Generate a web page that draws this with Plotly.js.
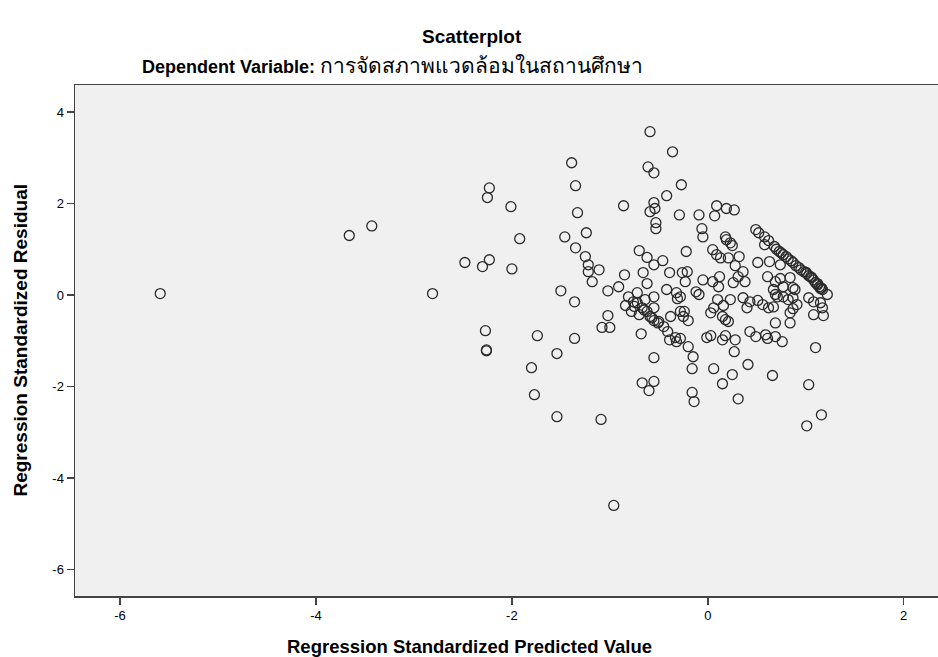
<!DOCTYPE html>
<html>
<head>
<meta charset="utf-8">
<script src="https://cdn.plot.ly/plotly-3.0.1.min.js"></script>
<style>html,body{margin:0;padding:0;background:#fff;}#chart{width:938px;height:657px;}</style>
</head>
<body>
<div id="chart"></div>
<script>
// Regression Standardized Predicted Value (x) and Regression Standardized Residual (y)
const predicted = [
-5.59,-3.66,-3.43,-2.81,-2.48,-2.30,-2.23,-2.23,-2.25,-2.27,-2.26,-2.26,-2.01,-1.92,-2.00,-1.74,-1.80,-1.77,-1.54,-1.54,
-1.50,-1.46,-1.39,-1.35,-1.33,-1.24,-1.35,-1.25,-1.22,-1.22,-1.11,-1.18,-1.36,-1.36,-1.09,-0.96,-1.02,-0.91,-0.85,-0.86,
-0.70,-0.62,-0.55,-0.46,-0.66,-0.62,-0.39,-0.59,-0.36,-0.61,-0.55,-0.42,-0.55,-0.59,-0.54,-0.53,-0.53,-0.27,-0.29,-0.09,
0.07,0.09,0.19,0.27,-0.06,-0.05,0.18,-0.22,-0.26,-0.21,-0.23,-0.42,-0.32,-0.31,-0.12,-0.09,-0.72,-0.81,-0.84,-0.78,
-0.72,-0.67,-0.62,-0.59,-0.55,-0.51,-0.45,-0.70,-0.64,-0.55,-0.55,-0.76,-0.38,-0.24,-0.20,-1.02,-1.08,-1.00,-0.68,-0.41,
-0.39,-0.33,-0.55,-0.67,-0.55,-0.60,-0.20,-0.15,-0.16,-0.16,-0.14,-0.28,-0.32,0.05,0.09,0.13,0.21,0.32,0.19,0.23,
0.25,0.28,0.36,0.31,0.38,0.26,0.49,0.52,0.51,-0.05,0.05,0.12,0.11,0.10,0.06,0.03,0.16,0.23,0.36,0.40,
0.51,0.15,0.18,0.21,-0.01,0.03,0.15,0.18,0.28,0.43,0.49,0.61,0.76,0.27,0.06,0.25,0.15,0.41,0.66,0.31,
1.10,1.03,1.16,1.01,0.58,0.62,0.68,0.73,0.77,0.80,0.82,0.87,0.90,0.93,0.98,1.01,1.03,1.06,1.08,1.10,
1.12,1.14,1.15,1.17,1.22,1.03,1.08,1.15,1.17,1.08,1.18,0.58,0.61,0.69,0.74,0.84,0.77,0.87,0.67,0.69,
0.71,0.77,0.82,0.87,0.91,0.89,0.87,0.84,0.84,0.69,0.63,0.74,0.43,0.56,0.62,0.67,0.59,0.69,-0.28,-0.25,
-0.28,0.85,0.95,1.00,1.05,1.12,1.16,0.70,0.75,-0.75,-0.65,-0.57,-0.50
];
const residual = [
0.03,1.30,1.51,0.03,0.71,0.62,0.77,2.34,2.13,-0.78,-1.22,-1.20,1.93,1.23,0.57,-0.89,-1.59,-2.18,-1.28,-2.66,
0.09,1.27,2.89,2.39,1.80,1.36,1.03,0.84,0.66,0.51,0.55,0.29,-0.15,-0.95,-2.72,-4.60,0.09,0.18,0.44,1.95,
0.97,0.82,0.66,0.75,0.49,0.25,0.49,3.57,3.13,2.80,2.67,2.17,2.02,1.82,1.89,1.58,1.45,2.41,1.75,1.75,
1.73,1.95,1.89,1.86,1.45,1.27,1.27,0.95,0.49,0.51,0.29,0.12,0.05,-0.08,0.07,0.01,0.05,-0.04,-0.23,-0.36,
-0.17,-0.28,-0.36,-0.47,-0.56,-0.61,-0.69,-0.43,-0.10,-0.04,-0.28,-0.15,-0.47,-0.36,-0.56,-0.45,-0.71,-0.71,-0.85,-0.80,
-0.98,-0.93,-1.37,-1.92,-1.89,-2.09,-1.13,-1.35,-1.61,-2.13,-2.33,-0.95,-1.02,0.99,0.88,0.81,0.81,0.84,1.21,1.14,
1.08,0.64,0.51,0.40,0.29,0.27,1.43,1.36,0.71,0.33,0.29,0.40,0.18,-0.10,-0.28,-0.39,-0.23,-0.10,-0.06,-0.28,
-0.12,-0.47,-0.54,-0.58,-0.93,-0.89,-0.98,-0.89,-0.98,-0.80,-0.91,-0.95,-1.02,-1.24,-1.61,-1.74,-1.94,-1.52,-1.76,-2.27,
-1.15,-1.96,-2.62,-2.86,1.27,1.19,1.06,0.95,0.88,0.84,0.79,0.71,0.64,0.60,0.51,0.47,0.42,0.38,0.33,0.27,
0.22,0.18,0.14,0.12,0.01,-0.06,-0.15,-0.17,-0.28,-0.43,-0.45,1.10,0.40,0.29,0.36,0.38,0.18,0.16,0.12,0.01,
-0.04,-0.04,-0.10,-0.06,-0.21,0.12,-0.30,-0.39,-0.61,-0.61,0.73,0.66,-0.15,-0.21,-0.28,-0.26,-0.87,-0.91,-0.36,-0.47,
-0.04,0.75,0.55,0.50,0.40,0.25,0.15,1.00,0.92,-0.25,-0.33,-0.50,-0.58
];
const xTicks = [-6, -4, -2, 0, 2];
const yTicks = [-6, -4, -2, 0, 2, 4];
const chartTitle = 'Scatterplot';
const subtitleLabel = 'Dependent Variable:';
const subtitleVar = 'การจัดสภาพแวดล้อมในสถานศึกษา';
const xTitle = 'Regression Standardized Predicted Value';
const yTitle = 'Regression Standardized Residual';

const fontFam = '"Liberation Sans", Arial, "DejaVu Sans", sans-serif';

const trace = {
  x: predicted, y: residual, type: 'scatter', mode: 'markers',
  marker: {symbol: 'circle-open', size: 10, color: '#2a2a2a', line: {width: 1.3, color: '#2a2a2a'}},
  hoverinfo: 'skip'
};

const axisCommon = {
  showgrid: false, zeroline: false, showline: true, linecolor: '#444', linewidth: 1.5,
  ticks: 'outside', ticklen: 7, tickwidth: 1.5, tickcolor: '#444',
  tickfont: {family: fontFam, size: 13, color: '#000'}
};

const layout = {
  width: 938, height: 657,
  margin: {l: 75, r: 0, t: 85, b: 61},
  paper_bgcolor: '#ffffff', plot_bgcolor: '#f0f0f0',
  showlegend: false,
  font: {family: fontFam, color: '#000'},
  xaxis: Object.assign({}, axisCommon, {range: [-6.46, 2.35], tickmode: 'array', tickvals: xTicks, ticktext: xTicks.map(String), mirror: true}),
  yaxis: Object.assign({}, axisCommon, {range: [-6.58, 4.59], tickmode: 'array', tickvals: yTicks, ticktext: yTicks.map(String), mirror: false}),
  annotations: [
    {text: '<b>' + chartTitle + '</b>', xref: 'paper', yref: 'paper', x: 0.46, y: 1.094, xanchor: 'center', yanchor: 'middle', showarrow: false, font: {family: fontFam, size: 19, color: '#000'}},
    {text: '<b>' + subtitleLabel + '</b> <span style="font-size:21px">' + subtitleVar + '</span>', xref: 'paper', yref: 'paper', x: 0.0753, y: 1.038, xanchor: 'left', yanchor: 'middle', showarrow: false, font: {family: fontFam, size: 18, color: '#000'}},
    {text: '<b>' + xTitle + '</b>', xref: 'paper', yref: 'paper', x: 0.4577, y: -0.0998, xanchor: 'center', yanchor: 'middle', showarrow: false, font: {family: fontFam, size: 18.5, color: '#000'}},
    {text: '<b>' + yTitle + '</b>', xref: 'paper', yref: 'paper', x: -0.0637, y: 0.5, xanchor: 'center', yanchor: 'middle', textangle: -90, showarrow: false, font: {family: fontFam, size: 19, color: '#000'}}
  ]
};

Plotly.newPlot('chart', [trace], layout, {displayModeBar: false, staticPlot: true});
</script>
</body>
</html>
